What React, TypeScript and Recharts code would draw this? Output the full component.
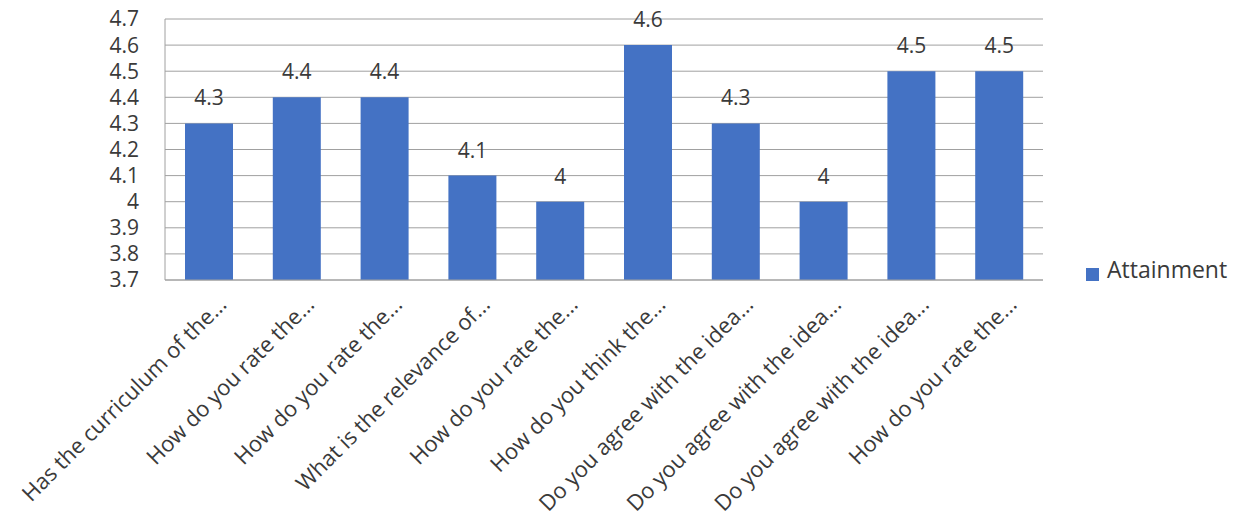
import React from "react";
import { BarChart, Bar, XAxis, YAxis, CartesianGrid, Legend, LabelList } from "recharts";

const questions = [
    "Has the curriculum of the...",
    "How do you rate the...",
    "How do you rate the...",
    "What is the relevance of...",
    "How do you rate the...",
    "How do you think the...",
    "Do you agree with the idea...",
    "Do you agree with the idea...",
    "Do you agree with the idea...",
    "How do you rate the...",
];

const attainment = [4.3, 4.4, 4.4, 4.1, 4.0, 4.6, 4.3, 4.0, 4.5, 4.5];

const yTicks = [3.7, 3.8, 3.9, 4.0, 4.1, 4.2, 4.3, 4.4, 4.5, 4.6, 4.7];

const data = questions.map((q, i) => ({ id: i, name: q, Attainment: attainment[i] }));

const FONT = "'Open Sans', sans-serif";
const TEXT = "#3a3a3a";

const AngledTick = (props: any) => {
    const { x, y, payload } = props;
    return (
        <g transform={`translate(${x + 19},${y + 18})`}>
            <text
                transform="rotate(-45)"
                textAnchor="end"
                fill={TEXT}
                fontSize={22}
                fontFamily={FONT}
            >
                {questions[payload.value]}
            </text>
        </g>
    );
};

export default function App() {
    return (
        <div style={{ position: "absolute", left: 0, top: 0, background: "#fff" }}>
            <BarChart
                width={1247}
                height={530}
                data={data}
                margin={{ top: 19, right: 204, left: 0, bottom: 0 }}
                barSize={48}
            >
                <CartesianGrid vertical={false} stroke="#a0a0a0" />
                <XAxis
                    dataKey="id"
                    interval={0}
                    tickLine={false}
                    axisLine={{ stroke: "#a0a0a0" }}
                    height={250}
                    tick={<AngledTick />}
                />
                <YAxis
                    domain={[3.7, 4.7]}
                    ticks={yTicks}
                    interval={0}
                    width={165}
                    tickLine={false}
                    axisLine={{ stroke: "#a0a0a0" }}
                    tickMargin={20}
                    tickFormatter={(v: number) => String(Math.round(v * 10) / 10)}
                    tick={{ fill: TEXT, fontSize: 21, fontFamily: FONT }}
                />
                <Legend
                    layout="vertical"
                    align="center"
                    verticalAlign="middle"
                    iconType="square"
                    iconSize={13}
                    wrapperStyle={{ position: "absolute", left: 1086, top: 253, width: 160 }}
                    formatter={(v: string) => (
                        <span style={{ color: TEXT, fontSize: 23, fontFamily: FONT, marginLeft: 4 }}>{v}</span>
                    )}
                />
                <Bar dataKey="Attainment" fill="#4472c4" isAnimationActive={false}>
                    <LabelList
                        dataKey="Attainment"
                        position="top"
                        offset={18}
                        fill={TEXT}
                        fontSize={21}
                        fontFamily={FONT}
                    />
                </Bar>
            </BarChart>
        </div>
    );
}
